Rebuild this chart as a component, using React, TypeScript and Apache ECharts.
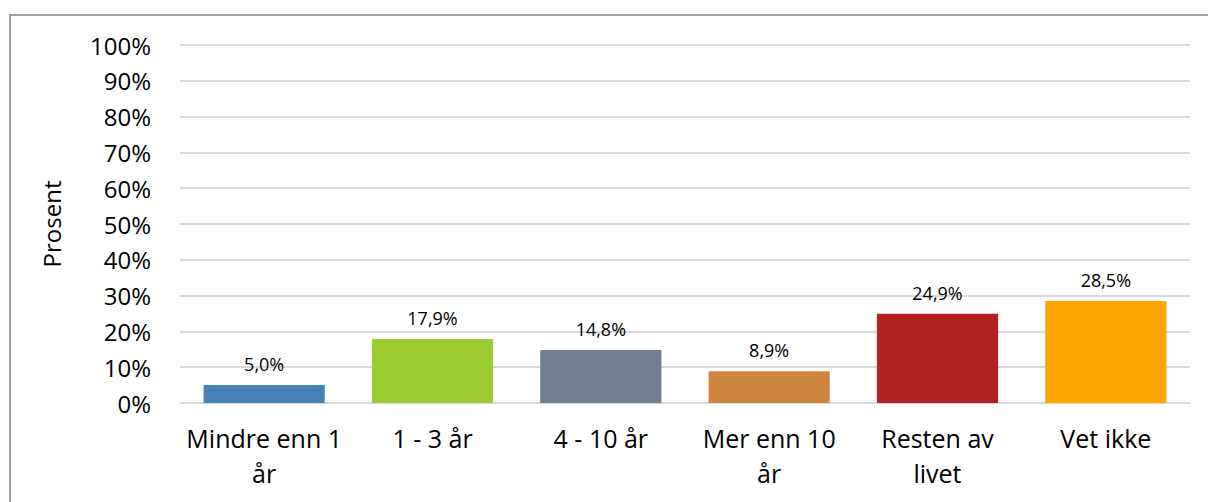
import React, { useEffect, useRef } from "react";
import * as echarts from "echarts";

const categories = ["Mindre enn 1\når", "1 - 3 år", "4 - 10 år", "Mer enn 10\når", "Resten av\nlivet", "Vet ikke"];
const values = [5.0, 17.9, 14.8, 8.9, 24.9, 28.5];
const colors = ["#4682B4", "#9ACD32", "#708090", "#CD853F", "#B22222", "#FFA500"];
const yTicks = [0, 10, 20, 30, 40, 50, 60, 70, 80, 90, 100];

export default function App() {
  const ref = useRef<HTMLDivElement>(null);
  useEffect(() => {
    if (!ref.current) return;
    const chart = echarts.init(ref.current, null, { renderer: "svg" });
    const font = "'Open Sans', 'Noto Sans', sans-serif";
    chart.setOption({
      animation: false,
      backgroundColor: "#ffffff",
      graphic: [
        {
          type: "rect",
          shape: { x: 10, y: 15, width: 1260, height: 600 },
          style: { fill: "none", stroke: "#a0a0a0", lineWidth: 2 },
          silent: true,
        },
      ],
      grid: { left: 180, right: 18, top: 45, bottom: 99 },
      xAxis: {
        type: "category",
        data: categories,
        axisLine: { show: true, lineStyle: { color: "#d9d9d9", width: 2 } },
        axisTick: { show: false },
        axisLabel: {
          color: "#000",
          fontFamily: font,
          fontSize: 25,
          lineHeight: 35,
          margin: 17,
          interval: 0,
        },
      },
      yAxis: {
        type: "value",
        min: yTicks[0],
        max: yTicks[yTicks.length - 1],
        interval: 10,
        name: "Prosent",
        nameLocation: "middle",
        nameRotate: 90,
        nameGap: 117,
        nameTextStyle: { color: "#000", fontFamily: font, fontSize: 24 },
        axisLine: { show: false },
        axisTick: { show: false },
        splitLine: { lineStyle: { color: "#d9d9d9", width: 2 } },
        axisLabel: {
          color: "#000",
          fontFamily: font,
          fontSize: 24,
          margin: 29,
          formatter: (v: number) => v + "%",
        },
      },
      series: [
        {
          type: "bar",
          data: values.map((v, i) => ({ value: v, itemStyle: { color: colors[i] } })),
          barCategoryGap: "28%",
          label: {
            show: true,
            position: "top",
            distance: 12,
            color: "#000",
            fontFamily: font,
            fontSize: 18,
            formatter: (p: any) => p.value.toFixed(1).replace(".", ",") + "%",
          },
        },
      ],
    });
    return () => chart.dispose();
  }, []);
  return (
    <div
      ref={ref}
      style={{ position: "fixed", left: 0, top: 0, width: 1208, height: 502, background: "#fff" }}
    />
  );
}
